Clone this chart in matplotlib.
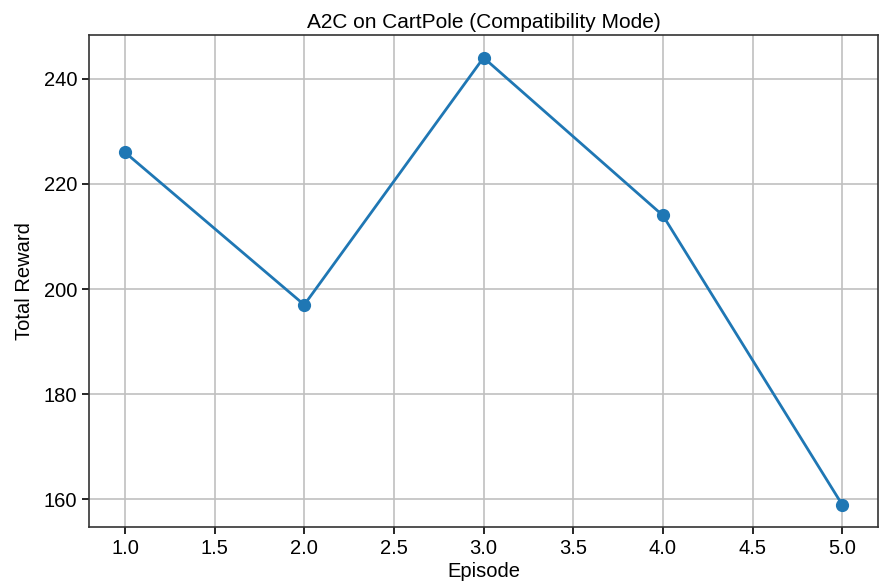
import matplotlib.pyplot as plt

plt.rcParams['font.family'] = ['Liberation Sans', 'DejaVu Sans']

episodes = [1, 2, 3, 4, 5]
rewards = [226, 197, 244, 214, 159]

fig = plt.figure(figsize=(8.82, 5.86), dpi=100)
ax = fig.add_axes([0.101, 0.1007, 0.8945, 0.839])
ax.plot(episodes, rewards, marker='o', color='#1f77b4', linewidth=2, markersize=8.5)
ax.set_title('A2C on CartPole (Compatibility Mode)', fontsize=15, pad=5)
ax.set_xlabel('Episode', fontsize=14.5, labelpad=3)
ax.set_ylabel('Total Reward', fontsize=14.5, labelpad=7)
ax.tick_params(labelsize=14.5, length=5, width=1.2)
ax.set_xticks([1.0, 1.5, 2.0, 2.5, 3.0, 3.5, 4.0, 4.5, 5.0])
ax.set_yticks([160, 180, 200, 220, 240])
ax.grid(True, color='#c0c0c0', linewidth=1.2)
for s in ax.spines.values():
    s.set_linewidth(1.2)
    s.set_color('#333333')
plt.savefig('out.png')
